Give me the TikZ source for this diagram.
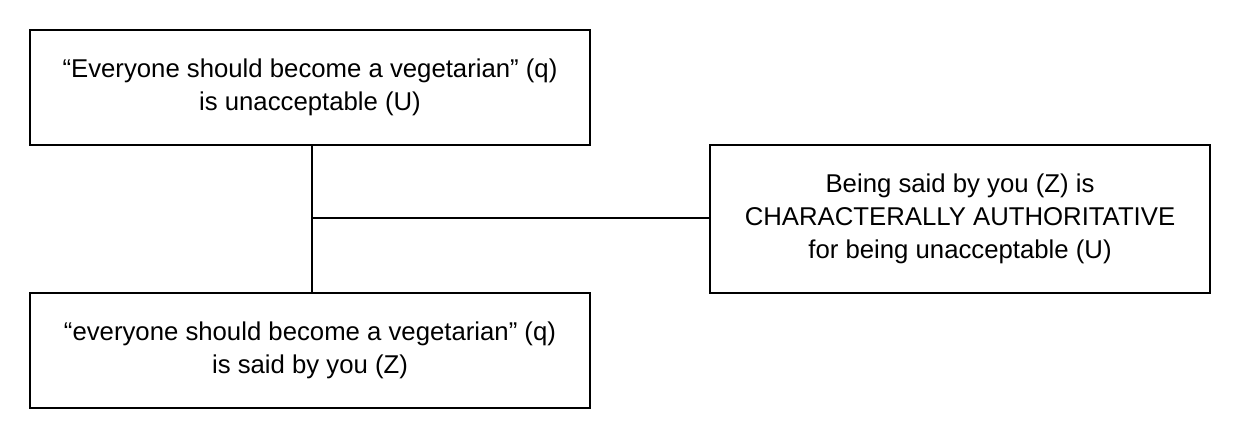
\documentclass[tikz,border=0pt]{standalone}
\usepackage{fontspec}
\setmainfont{Liberation Sans}
\begin{document}
\begin{tikzpicture}[x=0.025cm,y=-0.025cm,
  box/.style={draw,line width=1.2pt,align=center,inner sep=0pt,font=\fontsize{18.3}{23.5}\selectfont},
  ln/.style={line width=1.2pt}]
\useasboundingbox (0,0) rectangle (1240,438);
\node[box,minimum width=560*0.025cm,minimum height=115*0.025cm] (top) at (310,87.5) {“Everyone should become a vegetarian” (q)\\is unacceptable (U)};
\node[box,minimum width=560*0.025cm,minimum height=115*0.025cm] (bot) at (310,350.5) {“everyone should become a vegetarian” (q)\\is said by you (Z)};
\node[box,minimum width=500*0.025cm,minimum height=148*0.025cm] (right) at (960,219) {Being said by you (Z) is\\CHARACTERALLY AUTHORITATIVE\\for being unacceptable (U)};
\coordinate (j) at (312,218);
\draw[ln] (top.south -| j) -- (bot.north -| j);
\draw[ln] (j) -- (j -| right.west);
\end{tikzpicture}
\end{document}
